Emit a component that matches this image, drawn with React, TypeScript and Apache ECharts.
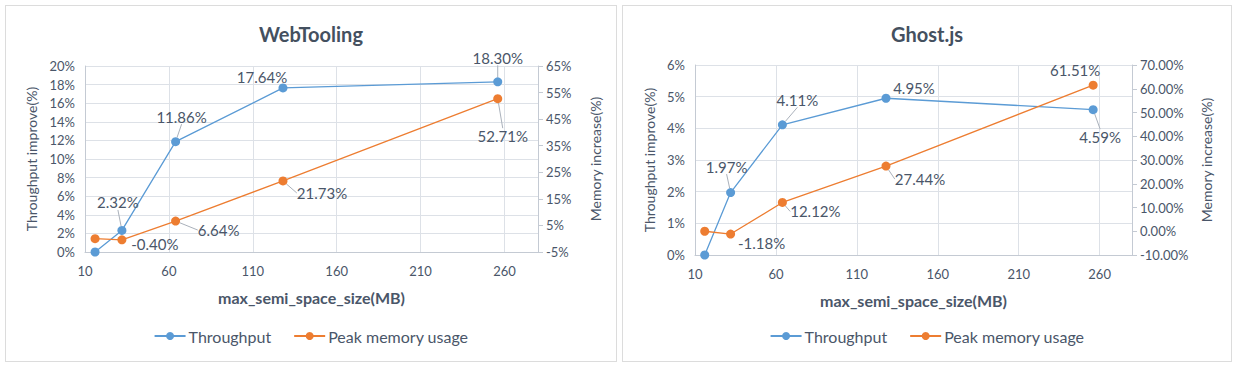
import React, { useEffect, useRef } from "react";
import * as echarts from "echarts";

const sizes = [16, 32, 64, 128, 256];
const webThroughput = [0, 2.32, 11.86, 17.64, 18.3];
const webMemory = [0, -0.4, 6.64, 21.73, 52.71];
const ghostThroughput = [0, 1.97, 4.11, 4.95, 4.59];
const ghostMemory = [0, -1.18, 12.12, 27.44, 61.51];

const webThroughputOffsets = [[0, 0], [-4, -28], [6, -25], [-21, -11], [0, -24]];
const webMemoryOffsets = [[0, 0], [33, 4], [43, 9], [39, 12], [5, 37]];
const ghostThroughputOffsets = [[0, 0], [-4, -26], [15, -25], [28, -10], [7, 27]];
const ghostMemoryOffsets = [[0, 0], [31, 9], [33, 9], [34, 13], [-18, -15]];

const webThroughputNoLine = [0, 3];
const webMemoryNoLine = [0, 1];
const ghostThroughputNoLine = [0, 3];
const ghostMemoryNoLine = [0, 1, 4];

const FONT = "Lato";
const TEXT = "#4a5669";
const GRID = "#dde1e7";
const AXIS = "#c4cad3";
const BLUE = "#5b9bd5";
const ORANGE = "#ed7d31";

type PanelProps = {
  title: string;
  throughput: number[];
  memory: number[];
  tOff: number[][];
  mOff: number[][];
  tNoLine: number[];
  mNoLine: number[];
  leftMax: number;
  leftInterval: number;
  rightMin: number;
  rightMax: number;
  rightDecimals: number;
  grid: { left: number; right: number; top: number; bottom: number };
  leftNameGap: number;
  rightNameGap: number;
  style: React.CSSProperties;
};

function Panel(p: PanelProps) {
  const ref = useRef<HTMLDivElement>(null);
  useEffect(() => {
    if (!ref.current) return;
    const chart = echarts.init(ref.current, undefined, { renderer: "svg" });
    const mkData = (vals: number[], noLine: number[]) =>
      vals.map((v, i) => {
        const item: any = { value: [sizes[i], v] };
        if (i === 0) item.label = { show: false };
        if (noLine.indexOf(i) >= 0) item.labelLine = { show: false };
        return item;
      });
    const mkSeries = (
      name: string,
      vals: number[],
      color: string,
      axis: number,
      offs: number[][],
      noLine: number[]
    ) => ({
      name,
      type: "line",
      yAxisIndex: axis,
      data: mkData(vals, noLine),
      symbol: "circle",
      symbolSize: 9,
      itemStyle: { color },
      lineStyle: { color, width: 1.3 },
      label: {
        show: true,
        position: "inside",
        fontFamily: FONT,
        fontSize: 15,
        color: TEXT,
        formatter: (pr: any) => pr.value[1].toFixed(2) + "%",
      },
      labelLine: { show: true, lineStyle: { color: "#aab1bb", width: 1 } },
      labelLayout: (pr: any) => {
        const o = offs[pr.dataIndex] || [0, 0];
        return { dx: o[0], dy: o[1] };
      },
    });
    chart.setOption({
      animation: false,
      textStyle: { fontFamily: FONT },
      title: {
        text: p.title,
        left: "center",
        top: 13,
        textStyle: { fontFamily: FONT, fontSize: 20, fontWeight: "bold", color: "#44505f" },
      },
      grid: { ...p.grid, containLabel: false },
      legend: {
        bottom: 12,
        left: "center",
        itemWidth: 31,
        itemHeight: 10,
        itemGap: 22,
        textStyle: { fontFamily: FONT, fontSize: 16, color: TEXT, padding: [0, 0, 0, -2] },
        data: ["Throughput", "Peak memory usage"],
      },
      xAxis: {
        type: "value",
        min: 10,
        max: 280,
        interval: 50,
        name: "max_semi_space_size(MB)",
        nameLocation: "middle",
        nameGap: 37,
        nameTextStyle: { fontFamily: FONT, fontSize: 16, fontWeight: "bold", color: TEXT },
        axisLine: { show: true, lineStyle: { color: AXIS } },
        axisTick: { show: false },
        axisLabel: {
          fontFamily: FONT,
          fontSize: 13,
          color: TEXT,
          margin: 12,
          formatter: (v: number) => (v === 280 ? "" : String(v)),
        },
        splitLine: { show: true, lineStyle: { color: GRID } },
      },
      yAxis: [
        {
          type: "value",
          min: 0,
          max: p.leftMax,
          interval: p.leftInterval,
          name: "Throughput improve(%)",
          nameLocation: "middle",
          nameGap: p.leftNameGap,
          nameTextStyle: { fontFamily: FONT, fontSize: 14, color: TEXT },
          axisLine: { show: true, lineStyle: { color: AXIS } },
          axisTick: { show: false },
          axisLabel: { fontFamily: FONT, fontSize: 13, color: TEXT, formatter: "{value}%", margin: 10 },
          splitLine: { show: true, lineStyle: { color: GRID } },
        },
        {
          type: "value",
          min: p.rightMin,
          max: p.rightMax,
          interval: 10,
          position: "right",
          name: "Memory increase(%)",
          nameLocation: "middle",
          nameGap: p.rightNameGap,
          nameTextStyle: { fontFamily: FONT, fontSize: 14, color: TEXT },
          axisLine: { show: true, lineStyle: { color: AXIS } },
          axisTick: { show: true, length: 5, lineStyle: { color: AXIS } },
          axisLabel: {
            fontFamily: FONT,
            fontSize: 13,
            color: TEXT,
            margin: 8,
            formatter: (v: number) => v.toFixed(p.rightDecimals) + "%",
          },
          splitLine: { show: false },
        },
      ],
      series: [
        mkSeries("Throughput", p.throughput, BLUE, 0, p.tOff, p.tNoLine),
        mkSeries("Peak memory usage", p.memory, ORANGE, 1, p.mOff, p.mNoLine),
      ],
    });
    return () => chart.dispose();
  }, []);
  return <div ref={ref} style={p.style} />;
}

export default function App() {
  const base: React.CSSProperties = {
    position: "absolute",
    top: 5,
    height: 355,
    border: "1px solid #dcdcdc",
    background: "#fff",
  };
  return (
    <div style={{ position: "absolute", left: 0, top: 0, width: 1239, height: 371, background: "#fff" }}>
      <Panel
        title="WebTooling"
        throughput={webThroughput}
        memory={webMemory}
        tOff={webThroughputOffsets}
        mOff={webMemoryOffsets}
        tNoLine={webThroughputNoLine}
        mNoLine={webMemoryNoLine}
        leftMax={20}
        leftInterval={2}
        rightMin={-5}
        rightMax={65}
        rightDecimals={0}
        grid={{ left: 79, right: 78, top: 60, bottom: 109 }}
        leftNameGap={46}
        rightNameGap={50}
        style={{ ...base, left: 5, width: 610 }}
      />
      <Panel
        title="Ghost.js"
        throughput={ghostThroughput}
        memory={ghostMemory}
        tOff={ghostThroughputOffsets}
        mOff={ghostMemoryOffsets}
        tNoLine={ghostThroughputNoLine}
        mNoLine={ghostMemoryNoLine}
        leftMax={6}
        leftInterval={1}
        rightMin={-10}
        rightMax={70}
        rightDecimals={2}
        grid={{ left: 72, right: 99, top: 59, bottom: 106 }}
        leftNameGap={38}
        rightNameGap={67}
        style={{ ...base, left: 622, width: 608 }}
      />
    </div>
  );
}
